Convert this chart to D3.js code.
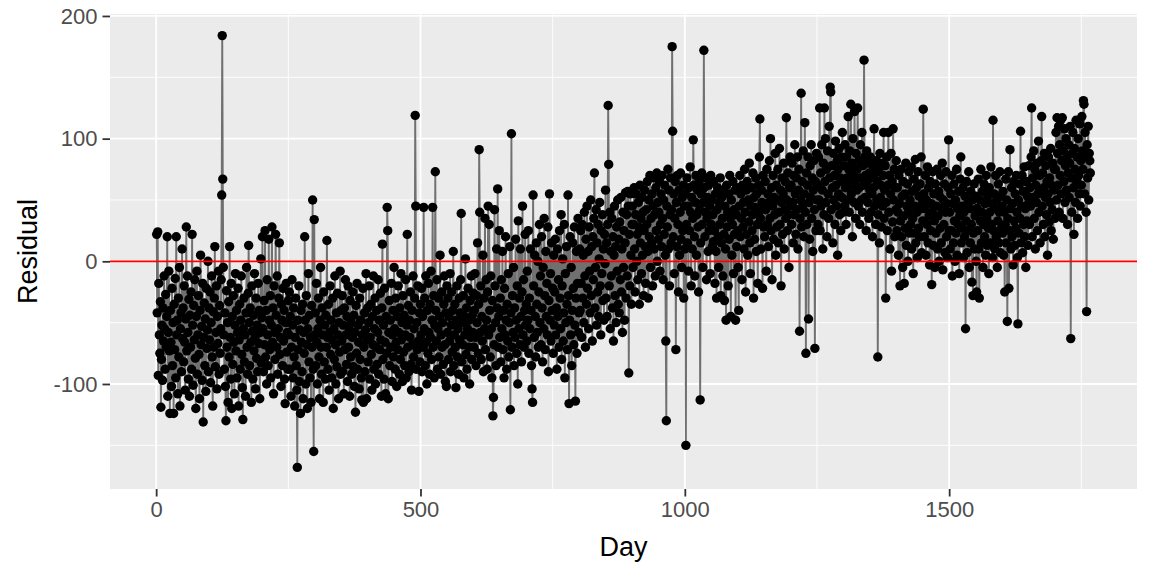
<!DOCTYPE html>
<html>
<head>
<meta charset="utf-8">
<script src="https://cdn.jsdelivr.net/npm/d3@7"></script>
<style>
  html, body { margin: 0; padding: 0; background: #ffffff; }
  svg { display: block; font-family: "Liberation Sans", Arial, sans-serif; }
</style>
</head>
<body>
<svg id="chart"></svg>
<script>
// residuals per day (day 1 .. 1767)
const residual = [
  22, -42, 24, -93, -18, -60, -75, -33, -119, -80, -52, -97, -38, -65, -12, -55, -88, -27, -70, -45, 20, -110, -58, -8, -73,
  -124, -40, -66, -102, -22, -85, -50, -124, -35, -72, -14, -95, 20, -60, -48, -108, -30, -78, -5, -118, -55, -42, -90, 10, -63,
  -38, -82, -20, -66, -105, -47, 28, -73, -12, -58, -96, -31, -110, -44, -70, -25, -88, 22, -52, -101, -36, -64, -15, -79, -120,
  -45, -8, -92, -60, -28, -76, -112, -40, 5, -68, -53, -97, -18, -131, -62, -34, -85, -47, -106, -22, -71, -56, 0, -90, -38,
  -64, -25, -99, -50, -12, -78, -118, -41, -70, -30, 12, -86, -58, -20, -104, -45, -67, -8, -92, -36, -75, -55, -15, 54, 184,
  67, -5, -60, -88, -42, -102, -130, -24, -70, -50, -115, -33, -78, 12, -62, -96, -18, -120, -45, -84, -28, -66, -108, -52, -10,
  -73, -40, -95, -58, -22, -118, -64, -35, -88, -48, -12, -76, -103, -129, -55, -30, -82, -60, -110, -42, -5, -70, -92, -26, 13,
  -50, -85, -38, -66, -115, -20, -57, -96, -44, -73, -10, -62, -104, -30, -79, -52, -90, -18, -67, -40, -112, -58, 2, -83, -46,
  20, -55, -90, -32, -68, 25, -78, -40, -100, -15, -60, -85, 18, -48, -72, -28, -95, -52, 28, -66, -38, -108, -20, -58, -80,
  22, -44, -70, -12, -92, -55, -30, 15, -76, -62, -102, -35, -48, -85, -22, -65, -40, -96, -116, -50, -18, -74, -58, -88, -32,
  -60, -25, -88, -45, -110, -70, -15, -52, -95, -38, -78, -118, -62, -30, -85, -105, -168, -48, -72, -20, -98, -56, -124, -40, -66,
  -90, -35, -112, -58, -75, 20, -48, -100, -28, -68, -120, -55, -10, -82, -44, -95, -62, -115, -36, -70, 50, -88, -155, 34, -60,
  -42, -85, -18, -66, -100, -55, -30, -78, -112, -48, -5, -70, -92, -38, -60, -115, -25, -82, -52, -96, -44, -70, 17, -62, -88,
  -35, -105, -58, -20, -76, -48, -95, -64, -30, -120, -55, -80, -12, -68, -100, -42, -86, -26, -60, -112, -50, -74, -8, -92, -40,
  -65, -28, -90, -52, -108, -38, -72, -15, -60, -84, -45, -98, -20, -70, -55, -110, -32, -78, -50, -92, -62, -25, -86, -44, -102,
  -58, -123, -36, -75, -18, -88, -52, -66, -104, -30, -80, -48, -95, -113, -60, -22, -115, -70, -42, -90, -56, -10, -112, -64, -38,
  -82, -50, -20, -96, -62, -35, -76, -105, -45, -68, -12, -88, -55, -30, -100, -70, -40, -84, -58, -15, -92, -48, -72, -26, -64,
  -110, -38, 14, -80, -52, -96, -22, -66, -108, -45, -75, 44, 25, -112, -58, -32, -85, -48, -70, -18, -98, -60, -40, -78, -5,
  -55, -88, -30, -66, -102, -45, -72, -20, -58, -92, -38, -80, -10, -64, -50, -98, -28, -74, -44, -85, -60, -15, -95, -52, 22,
  -70, -36, -90, -48, -62, -25, -84, -105, -40, -68, -12, -78, -55, -30, 119, 45, -88, -50, -72, -20, -65, -106, -42, -82, -35,
  -60, -22, -90, -45, -70, 44, -55, -30, -85, -12, -66, -100, -40, -75, -18, -58, -92, -35, -62, -8, -80, -48, 44, -70, -28,
  -95, -52, 73, -40, -65, -15, -88, -55, -30, -78, -45, 5, -92, -60, -25, -70, -50, -84, -35, -12, -68, -98, -42, -102, -20,
  -58, -30, -80, -45, -65, -10, -90, -52, -25, -74, -40, 8, -85, -60, -35, -70, -103, -48, -20, -78, -55, -92, -30, -64, -42,
  -15, 39, -82, -50, -68, -28, -95, -45, -60, 2, -76, -38, -88, -55, -22, -70, -48, -100, -32, -62, -12, -80, -44, -58, -26,
  -70, -40, -10, -62, -85, -28, -50, 15, -75, -35, 91, 40, -58, -20, -80, -45, -65, 5, -90, -30, -55, 35, -72, -15, -48,
  -88, -25, 45, -60, 30, -40, -78, -12, -55, -95, -32, -126, -111, -68, 42, -20, -50, -85, 10, -38, 59, -70, -45, 25, -62,
  -30, -82, -15, -55, 8, -72, -40, -95, -22, -60, 20, -48, -88, -35, -65, -10, -78, -50, 12, -121, -42, 104, -70, -28, -58,
  -5, -85, -38, -62, 18, -48, -75, -20, -100, 33, -55, -30, -68, 10, -45, -82, -25, 45, -60, -15, -70, -40, 22, -52, -35,
  -65, -8, -48, 25, -75, -30, -55, 10, -40, -85, -104, -115, 54, -20, -62, 5, -45, -78, 15, -35, -58, 0, -70, -25, 30,
  -50, -12, -68, 20, -38, -82, -5, -55, 35, -28, -72, 8, -45, -18, -60, 28, -90, -32, 55, -48, -10, -65, 15, -40, -22,
  -75, 5, -52, -25, 18, -60, -38, -88, 10, -45, -15, -70, 25, -30, -55, 38, -80, -20, 2, -65, -42, 30, -95, -10, -50,
  12, -35, -72, 54, -28, -116, -48, 20, -60, -5, -85, -40, 15, -22, -68, 28, -52, -114, -30, 8, -75, -18, 35, -58, -42,
  10, -40, 25, -18, -62, 30, -30, 5, -50, 40, -12, -70, 18, -35, 45, -22, 8, -55, 28, -8, -42, 50, -28, 12, -65,
  20, -15, 35, 72, -38, -5, 42, -52, 15, -25, 30, -45, 2, 48, -20, -60, 25, -10, 38, -32, 10, -48, 22, -2, 58,
  -30, 15, -45, 30, 127, 79, -20, 40, -55, 8, -12, 35, -38, 20, -65, 5, 45, -28, 12, -50, 28, -8, 50, -35, 18,
  -42, 32, -15, 52, -25, 10, -58, 40, -5, 25, -48, 15, 56, -30, 38, -12, 57, 45, -91, 22, -20, 55, 5, -35, 30,
  45, -5, 30, 60, 10, -25, 38, 55, 0, 22, -15, 48, 28, -35, 62, 15, 35, -10, 52, 5, 40, -28, 25, 58, 12,
  -18, 42, 30, 65, 8, -30, 50, 20, 70, -5, 35, 15, 55, -20, 45, 68, 10, 38, -12, 60, 25, 72, 0, 48, 18,
  40, 65, -8, 30, 55, 12, 70, 35, -15, 50, 22, 62, 5, -65, -130, 45, 28, 75, 10, 58, -20, 38, 68, 15, 42,
  175, 106, 20, 55, -10, 35, 65, -72, 48, 12, 70, 30, -25, 58, 5, 40, 72, 18, -5, 52, 25, 62, -30, 45, 10,
  55, -150, 30, 68, 15, 45, -8, 60, 25, 77, 40, -20, 52, 10, 35, 99, 62, 20, -12, 48, 70, 5, 38, 58, 28,
  -25, 65, 42, -113, 15, 55, 72, 30, -5, 48, 172, 60, 20, 40, 68, -15, 35, 52, 8, 62, 25, 45, -10, 70, 30,
  50, 12, 38, 16, 65, 25, -18, 55, 8, -30, 42, 60, 20, -5, 48, 30, 68, -28, 15, 52, 35, -12, 58, 22, -32,
  45, 10, -48, 62, 28, 40, -20, 55, 18, 70, 35, -45, 50, 5, 30, 65, -10, 42, 22, 58, -48, 38, 12, 60, 25,
  -5, -40, 45, 70, 20, 55, 35, -15, 62, 28, 48, 10, 75, 40, -25, 58, 22, 65, 5, 50, 32, 80, 15, -10, 45,
  60, 25, 38, 72, -30, 52, 18, 44, 68, 8, 55, 30, -18, 62, 40, 85, 116, 35, 10, 58, 48, -22, 70, 28, 45,
  20, 65, 42, -8, 75, 30, 55, 12, 48, 82, 35, 100, 25, 60, -15, 45, 70, 18, 52, 38, 88, 5, 62, 28, 50,
  75, 15, 40, 92, 30, 58, -20, 48, 68, 22, 55, 80, 10, 42, 65, 35, 117, 50, 25, 72, 38, -5, 60, 85, 45,
  62, 30, 80, 48, 15, 70, 38, 95, 55, 22, 68, 42, 85, 10, 58, 75, -57, 35, 50, 137, 28, 65, 45, 90, 20,
  55, 113, 40, -75, 72, 30, 62, 85, -47, 48, 18, 78, 52, 95, 35, 68, 8, 58, 82, 42, -71, 65, 25, 88, 50,
  62, 30, 85, 50, 125, 25, 72, 45, 95, 58, 10, 80, 38, 125, 65, 100, 48, 75, 20, 90, 55, 35, 110, 68, 142,
  138, 42, 78, 60, 15, 88, 50, 70, 30, 98, 62, 45, 82, 5, 75, 55, 92, 38, 68, 25, 85, 52, 105, 65, 40,
  78, 45, 95, 60, 30, 85, 68, 50, 118, 75, 40, 90, 62, 128, 55, 80, 20, 100, 70, 48, 122, 65, 35, 88, 58,
  75, 125, 45, 82, 60, 30, 95, 68, 50, 105, 40, 78, 62, 164, 85, 52, 70, 25, 90, 65, 48, 80, 35, 72, 58,
  85, 40, 68, 55, 20, 78, 60, 108, 45, 72, 30, 82, 50, 65, -78, 38, 75, 15, 88, 52, 62, 28, 80, 45, 70,
  105, 35, 58, 78, -30, 48, 85, 25, 62, 105, 40, 70, 10, 55, 88, -8, 65, 32, 108, 50, 75, 20, 60, 42, 82,
  25, 60, 40, 5, 70, 47, -20, 33, 75, 20, 53, -5, 65, 37, -18, 55, 27, 80, 13, 45, 63, 0, 40, 73, 23,
  50, 30, 77, 10, 57, 35, -10, 67, 23, 45, 83, 15, 60, 40, 3, 73, 27, 53, 20, 63, 43, 85, 7, 47, 33,
  124, 55, 20, 43, 70, 5, 50, 30, 77, 15, 60, 37, -3, 65, 25, 47, -19, 40, 73, 13, 55, 33, -5, 63, 23,
  45, 75, 10, 37, 57, 0, 53, 27, 70, 15, 43, 80, -7, 50, 30, 63, 7, 40, 73, 20, 47, 3, 60, 99, 25,
  40, 10, 55, 25, 70, -12, 47, 15, 63, 33, 0, 50, 23, 75, 5, 43, 30, 57, -10, 37, 67, 85, 15, 45, 27,
  60, 3, 40, 20, 53, -55, 33, 65, 7, 47, 25, 73, -5, 43, 15, 57, 30, -17, 50, -28, 23, 63, 10, 37, 53,
  0, -25, 43, 25, 67, 10, -30, 50, 33, 75, 15, 40, 57, -5, 30, 63, 20, 47, 5, 70, 35, 13, 53, 27, -10,
  60, 40, 15, 77, 30, 47, 3, 115, 25, 55, 10, 43, 70, 20, 50, -5, 33, 63, 15, 40, 73, 7, 53, 27, 45,
  23, 57, 5, 40, -25, 30, 67, 15, 50, -49, 35, 73, -22, 25, 91, 43, 10, 60, 20, 47, -3, 65, 33, 13, 55,
  27, 70, 40, 3, -51, 50, 23, 63, 35, 106, 15, 45, 70, 7, 57, 30, 77, 20, 43, -5, 65, 33, 53, 13, 47,
  78, 30, 60, 45, 85, 125, 20, 68, 52, 90, 35, 75, 10, 62, 48, 80, 25, 55, 98, 40, 70, 15, 58, 82, 118,
  45, 72, 30, 60, 88, 20, 52, 78, 38, 65, 5, 55, 85, 32, 68, 48, 92, 25, 62, 42, 80, 18, 58, 75, 35,
  75, 105, 50, 117, 88, 62, 110, 40, 95, 70, 115, 55, 82, 117, 35, 90, 65, 108, 48, 78, 100, 58, 85, 30, 72,
  95, 52, 80, 110, -63, 68, 40, 88, 105, 60, 22, 92, 75, 48, 115, 65, 85, 35, 100, 70, 55, 112, 45, 82, 62,
  118, 90, 75, 131, 128, 55, 105, 85, 40, -41, 95, 68, 110, 50, 88, 82, 72
]
const firstDay = 1

// tick labels as printed on the axes
const xTicks = [0, 500, 1000, 1500]
const xMinorTicks = [250, 750, 1250, 1750]
const yTicks = [-100, 0, 100, 200]
const yMinorTicks = [-150, -50, 50, 150]
const refLine = [0]

const width = 1152
const height = 576
const margin = { top: 14, right: 15, bottom: 87, left: 110 }
const innerW = width - margin.left - margin.right
const innerH = height - margin.top - margin.bottom

const data = residual.map((r, i) => ({ day: firstDay + i, residual: r }))
const xAccessor = (d) => d.day
const yAccessor = (d) => d.residual

// ggplot style 5% expansion on both axes
const expand = (ext) => {
  const pad = (ext[1] - ext[0]) * 0.05
  return [ext[0] - pad, ext[1] + pad]
}

const xScale = d3
  .scaleLinear()
  .domain(expand(d3.extent(data, xAccessor)))
  .range([0, innerW])
const yScale = d3
  .scaleLinear()
  .domain(expand(d3.extent(data, yAccessor)))
  .range([innerH, 0])

const svg = d3.select("#chart").attr("width", width).attr("height", height)

const panel = svg
  .append("g")
  .attr("transform", `translate(${margin.left}, ${margin.top})`)

// grey panel background
panel
  .append("rect")
  .attr("width", innerW)
  .attr("height", innerH)
  .attr("fill", "#EBEBEB")

// minor grid lines first, then major ones
const gridLines = (cls, values, vertical, strokeWidth) => {
  panel
    .selectAll(`.${cls}`)
    .data(values)
    .join("line")
    .attr("class", cls)
    .attr("x1", (d) => (vertical ? xScale(d) : 0))
    .attr("x2", (d) => (vertical ? xScale(d) : innerW))
    .attr("y1", (d) => (vertical ? 0 : yScale(d)))
    .attr("y2", (d) => (vertical ? innerH : yScale(d)))
    .attr("stroke", "#ffffff")
    .attr("stroke-width", strokeWidth)
}
gridLines("xMinor", xMinorTicks, true, 0.9)
gridLines("yMinor", yMinorTicks, false, 0.9)
gridLines("xMajor", xTicks, true, 1.8)
gridLines("yMajor", yTicks, false, 1.8)

// grey line joining consecutive days
const line = d3
  .line()
  .x((d) => xScale(xAccessor(d)))
  .y((d) => yScale(yAccessor(d)))
panel
  .append("path")
  .datum(data)
  .attr("d", line)
  .attr("fill", "none")
  .attr("stroke", "#707070")
  .attr("stroke-width", 1.9)

// black points on top of the line
panel
  .selectAll(".dot")
  .data(data)
  .join("circle")
  .attr("class", "dot")
  .attr("cx", (d) => xScale(xAccessor(d)))
  .attr("cy", (d) => yScale(yAccessor(d)))
  .attr("r", 4.7)
  .attr("fill", "#000000")

// red reference line at zero
panel
  .selectAll(".refLine")
  .data(refLine)
  .join("line")
  .attr("class", "refLine")
  .attr("x1", 0)
  .attr("x2", innerW)
  .attr("y1", (d) => yScale(d))
  .attr("y2", (d) => yScale(d))
  .attr("stroke", "#FF0000")
  .attr("stroke-width", 1.8)

// axes: short dark ticks, grey labels, no domain line
const plain = (d) => `${d}`
const xAxis = d3.axisBottom(xScale).tickValues(xTicks).tickFormat(plain).tickSize(7.5).tickPadding(5)
const yAxis = d3.axisLeft(yScale).tickValues(yTicks).tickFormat(plain).tickSize(7.5).tickPadding(5)

const gx = svg
  .append("g")
  .attr("transform", `translate(${margin.left}, ${margin.top + innerH})`)
  .call(xAxis)
const gy = svg
  .append("g")
  .attr("transform", `translate(${margin.left}, ${margin.top})`)
  .call(yAxis)

;[gx, gy].forEach((g) => {
  g.select(".domain").remove()
  g.selectAll(".tick line").attr("stroke", "#333333").attr("stroke-width", 1.8)
  g.selectAll(".tick text")
    .attr("fill", "#4D4D4D")
    .style("font-size", "22px")
    .style("font-family", "'Liberation Sans', Arial, sans-serif")
})

// axis titles
svg
  .append("text")
  .attr("x", margin.left + innerW / 2)
  .attr("y", 556)
  .attr("text-anchor", "middle")
  .attr("fill", "#000000")
  .style("font-size", "27px")
  .text("Day")
svg
  .append("text")
  .attr("transform", `translate(37, ${margin.top + innerH / 2}) rotate(-90)`)
  .attr("text-anchor", "middle")
  .attr("fill", "#000000")
  .style("font-size", "27px")
  .text("Residual")
</script>
</body>
</html>
